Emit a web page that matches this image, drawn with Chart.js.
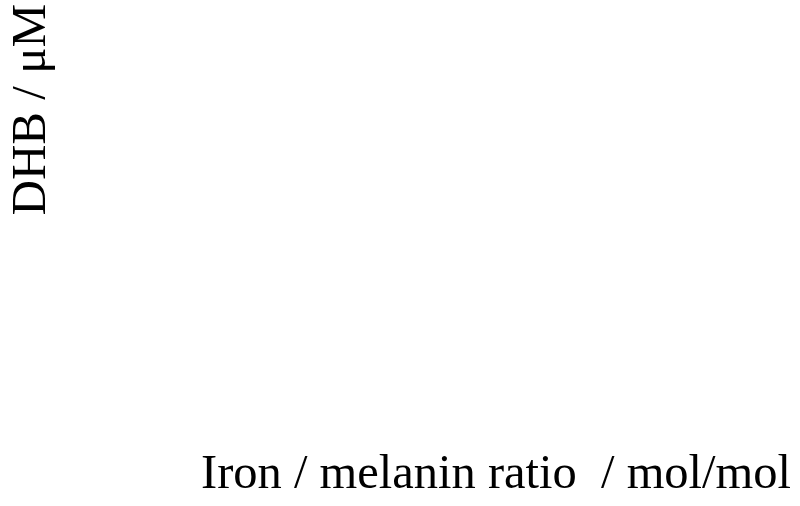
<!DOCTYPE html>
<html lang="en">

<head>
    <meta charset="UTF-8">
    <title>DHB</title>
    <style>
        html, body { margin: 0; padding: 0; background: #fff; }
        #wrap { width: 800px; height: 506px; }
    </style>
</head>

<body>
    <div id="wrap"><canvas id="chart" width="800" height="506"></canvas></div>

    <script src="https://cdn.jsdelivr.net/npm/chart.js@4.4.1/dist/chart.umd.min.js"></script>

    <script>
        // the figure only shows its axis titles, no points were plotted
        var ironRatio = [];
        var dhbValues = [];

        var xTitle = "Iron / melanin ratio  / mol/mol";
        var yTitle = "DHB / \u03bcM";

        var points = ironRatio.map(function (x, i) {
            return { x: x, y: dhbValues[i] };
        });

        var serif = "'Liberation Serif', 'Times New Roman', serif";

        new Chart(document.getElementById("chart"), {
            type: 'scatter',
            data: {
                datasets: [{
                    label: 'DHB',
                    data: points,
                    backgroundColor: "#000",
                    borderColor: "#000"
                }]
            },
            options: {
                responsive: false,
                animation: false,
                devicePixelRatio: 1,
                layout: { padding: { top: 4, right: 9, bottom: 6, left: 8 } },
                plugins: {
                    legend: { display: false },
                    tooltip: { enabled: false }
                },
                scales: {
                    x: {
                        type: 'linear',
                        grid: { display: false },
                        border: { display: false },
                        ticks: { display: false },
                        title: {
                            display: true,
                            text: xTitle,
                            align: 'end',
                            color: "#000",
                            font: { family: serif, size: 48.5, lineHeight: 1 },
                            padding: 0
                        }
                    },
                    y: {
                        type: 'linear',
                        grid: { display: false },
                        border: { display: false },
                        ticks: { display: false },
                        title: {
                            display: true,
                            text: yTitle,
                            align: 'end',
                            color: "#000",
                            font: { family: serif, size: 49, lineHeight: 1 },
                            padding: 0
                        }
                    }
                }
            }
        });
    </script>
</body>

</html>
